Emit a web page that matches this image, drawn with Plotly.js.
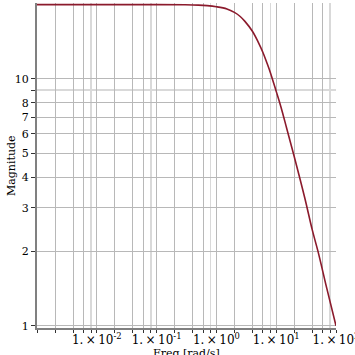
<!DOCTYPE html>
<html><head><meta charset="utf-8">
<script src="https://cdn.plot.ly/plotly-3.0.1.min.js"></script>
<style>html,body{margin:0;padding:0;background:#fff}#c{width:355px;height:355px}</style>
</head><body><div id="c"></div>
<script>
// Frequency samples [rad/s] and magnitude
const freq = [0.001, 0.01, 0.1, 0.3, 0.5, 0.7, 1, 1.5, 2, 2.5, 3, 4, 5, 6, 7, 8, 10, 12, 15, 20, 30, 40, 50, 70, 100];
const magnitude = [20, 20, 20, 19.96, 19.9, 19.8, 19.6, 19.2, 18.6, 17.9, 17.1, 15.6, 14.1, 12.8, 11.6, 10.6, 8.9, 7.7, 6.3, 4.85, 3.3, 2.45, 2.0, 1.42, 1.0];

const S = '\u2009\u00d7\u2009';
const xMajorVals = [0.001,0.002,0.004,0.006, 0.01,0.02,0.04,0.06, 0.1,0.2,0.4,0.6, 1,2,4,6, 10,20,40,60, 100];
const xMajorText = ['','','','', '1.'+S+'10<sup>-2</sup>','','','', '1.'+S+'10<sup>-1</sup>','','','', '1.'+S+'10<sup>0</sup>','','','', '1.'+S+'10<sup>1</sup>','','','', '1.'+S+'10<sup>2</sup>'];
const xMinorVals = [0.008, 0.08, 0.8, 8, 80];
const yTickVals = [1,2,3,4,5,6,7,8,10];
const yTickText = ['1','2','3','4','5','6','7','8','10'];
const yMinorVals = [9];
const xTitle = 'Freq [rad/s]';
const yTitle = 'Magnitude';

const font = {family: 'DejaVu Serif', size: 11, color: '#000'};
const xfont = {family: 'DejaVu Serif', size: 12, color: '#000'};

Plotly.newPlot('c', [{
  x: freq, y: magnitude, type: 'scatter', mode: 'lines',
  line: {color: '#8b1a2c', width: 1.6, shape: 'spline'},
  hoverinfo: 'none'
}], {
  width: 355, height: 355,
  margin: {l: 37, r: 19, t: 3, b: 27},
  paper_bgcolor: '#fff', plot_bgcolor: '#fff',
  showlegend: false,
  font: font,
  xaxis: {
    type: 'log', range: [-3, 2],
    tickmode: 'array', tickvals: xMajorVals, ticktext: xMajorText,
    ticks: 'outside', ticklen: 3, tickcolor: '#333', tickwidth: 1,
    ticklabeloverflow: 'allow', ticklabelstandoff: -3,
    showgrid: true, gridcolor: '#b8b8b8', gridwidth: 1,
    minor: {tickmode: 'array', tickvals: xMinorVals, ticks: 'outside', ticklen: 3, tickcolor: '#333',
            showgrid: true, gridcolor: '#d9d9d9', gridwidth: 1.5},
    showline: true, linecolor: '#808080', linewidth: 2,
    zeroline: false, tickfont: xfont
  },
  yaxis: {
    type: 'log', range: [Math.log10(0.979), Math.log10(20.3)],
    tickmode: 'array', tickvals: yTickVals, ticktext: yTickText,
    ticks: 'outside', ticklen: 4, tickcolor: '#333', tickwidth: 1,
    showgrid: true, gridcolor: '#b8b8b8', gridwidth: 1,
    minor: {tickmode: 'array', tickvals: yMinorVals, ticks: 'outside', ticklen: 4, tickcolor: '#333',
            showgrid: true, gridcolor: '#d9d9d9', gridwidth: 1.5},
    showline: true, linecolor: '#808080', linewidth: 2,
    zeroline: false, tickfont: font
  },
  annotations: [
    {text: xTitle, xref: 'paper', yref: 'paper', x: 0.5, y: 0, xanchor: 'center', yanchor: 'top',
     yshift: -17, showarrow: false, font: font},
    {text: yTitle, xref: 'paper', yref: 'paper', x: 0, y: 0.5, xanchor: 'right', yanchor: 'middle',
     xshift: -17, textangle: -90, showarrow: false, font: font}
  ]
}, {displayModeBar: false, staticPlot: true});
</script></body></html>
